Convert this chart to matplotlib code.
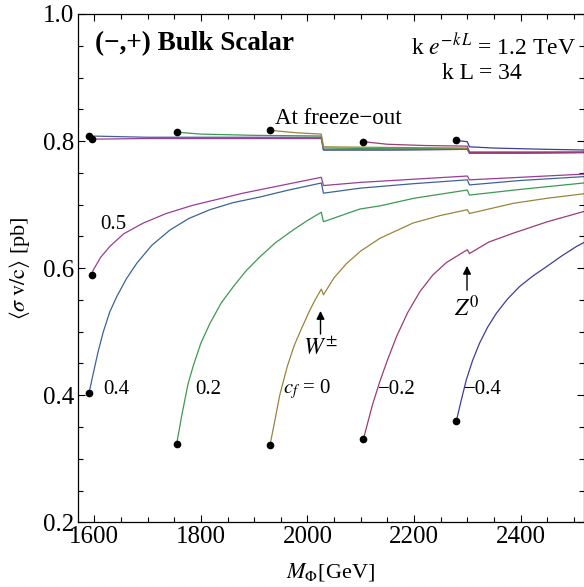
import colorsys
import matplotlib
matplotlib.use('Agg')
import matplotlib.pyplot as plt

plt.rcParams['font.family'] = ['Liberation Serif', 'DejaVu Serif']
plt.rcParams['mathtext.fontset'] = 'stix'

# c_f values and Mathematica-style hues
cf_labels = ['0.5', '0.4', '0.2', r'$c_f$ = 0', '\u22120.2', '\u22120.4']
cf_hues = [0.84, 0.6, 0.37, 0.13, 0.9, 0.67]

# lower branches (thermal average vs mass)
lo_x = [
    [1595, 1598, 1612, 1629, 1655, 1692, 1735, 1785, 1879, 1973, 2026, 2030, 2100, 2200, 2300, 2304, 2400, 2518],
    [1590, 1598, 1607, 1617, 1629, 1642, 1660, 1680, 1708, 1742, 1777, 1817, 1860, 1911, 1965, 2026, 2030, 2100, 2200, 2300, 2304, 2400, 2518],
    [1754.5, 1765, 1776, 1786, 1800, 1817, 1838, 1861, 1885, 1911, 1940, 1973, 2000, 2026, 2030, 2098, 2136, 2200, 2300, 2304, 2400, 2518],
    [1929.5, 1936, 1948, 1962, 1975, 1990, 2004, 2015, 2026, 2030, 2050, 2073, 2100, 2136, 2198, 2250, 2300, 2304, 2386, 2450, 2518],
    [2105, 2111, 2122, 2136, 2150, 2167, 2188, 2211, 2235, 2261, 2300, 2304, 2340, 2386, 2450, 2518],
    [2279.5, 2288, 2298, 2310, 2323, 2338, 2354.5, 2375, 2398, 2422, 2448, 2475, 2504.5, 2518],
]
lo_y = [
    [0.589, 0.597, 0.617, 0.634, 0.654, 0.671, 0.686, 0.699, 0.718, 0.734, 0.743, 0.730, 0.735, 0.740, 0.745, 0.739, 0.743, 0.748],
    [0.403, 0.434, 0.468, 0.500, 0.531, 0.555, 0.583, 0.608, 0.636, 0.660, 0.678, 0.692, 0.703, 0.712, 0.723, 0.734, 0.718, 0.726, 0.733, 0.739, 0.731, 0.738, 0.744],
    [0.323, 0.372, 0.418, 0.447, 0.482, 0.513, 0.545, 0.571, 0.596, 0.618, 0.640, 0.660, 0.675, 0.688, 0.673, 0.693, 0.698, 0.710, 0.723, 0.715, 0.724, 0.734],
    [0.321, 0.348, 0.400, 0.445, 0.478, 0.507, 0.533, 0.551, 0.567, 0.558, 0.585, 0.607, 0.627, 0.647, 0.671, 0.683, 0.692, 0.686, 0.702, 0.710, 0.717],
    [0.331, 0.350, 0.385, 0.422, 0.455, 0.492, 0.530, 0.563, 0.589, 0.609, 0.629, 0.623, 0.641, 0.655, 0.673, 0.689],
    [0.360, 0.390, 0.424, 0.455, 0.482, 0.507, 0.529, 0.551, 0.571, 0.587, 0.602, 0.618, 0.634, 0.640],
]

# upper branches (at freeze-out)
up_x = [
    [1595, 1700, 1850, 2026, 2030, 2150, 2300, 2304, 2400, 2518],
    [1590, 1700, 1850, 2026, 2030, 2150, 2300, 2304, 2400, 2518],
    [1754.5, 1800, 1900, 2026, 2030, 2150, 2300, 2304, 2400, 2518],
    [1929.5, 1980, 2026, 2030, 2150, 2300, 2304, 2400, 2518],
    [2105, 2150, 2220, 2300, 2304, 2400, 2518],
    [2279.5, 2290, 2300, 2304, 2350, 2450, 2518],
]
up_y = [
    [0.803, 0.804, 0.804, 0.804, 0.786, 0.786, 0.787, 0.781, 0.781, 0.782],
    [0.808, 0.806, 0.806, 0.806, 0.786, 0.786, 0.787, 0.781, 0.781, 0.782],
    [0.814, 0.811, 0.809, 0.808, 0.789, 0.788, 0.788, 0.782, 0.782, 0.783],
    [0.817, 0.813, 0.811, 0.791, 0.790, 0.789, 0.783, 0.783, 0.783],
    [0.799, 0.795, 0.793, 0.792, 0.782, 0.782, 0.782],
    [0.801, 0.800, 0.799, 0.791, 0.789, 0.787, 0.786],
]

# curve label positions
lab_x = [1635, 1641, 1814, 1999, 2167, 2329]
lab_y = [0.668, 0.409, 0.409, 0.409, 0.409, 0.409]

fig = plt.figure(figsize=(5.84, 5.87), dpi=100)
ax = fig.add_axes([78.3 / 584, 64.7 / 587, 505.2 / 584, 508.3 / 587])

for i in range(len(cf_hues)):
    col = colorsys.hsv_to_rgb(cf_hues[i], 0.6, 0.6)
    ax.plot(lo_x[i], lo_y[i], color=col, lw=0.9)
    ax.plot(up_x[i], up_y[i], color=col, lw=0.9)
    ax.plot([lo_x[i][0], up_x[i][0]], [lo_y[i][0], up_y[i][0]], 'o',
            color='black', ms=4.5, ls='none', zorder=5)
    ax.text(lab_x[i], lab_y[i], cf_labels[i], fontsize=15, ha='center', va='center')

ax.text(1601.5, 0.954, '(\u2212,+) Bulk Scalar', fontsize=19.5, fontweight='bold',
        ha='left', va='center')
ax.text(2349, 0.948, r'k $e^{-k\,L}$ = 1.2 TeV', fontsize=17, ha='center', va='center')
ax.text(2327, 0.907, 'k L = 34', fontsize=17, ha='center', va='center')
ax.text(2058, 0.836, 'At freeze\u2212out', fontsize=16.5, ha='center', va='center')

# W and Z thresholds
arrow = dict(arrowstyle='-|>', color='black', lw=1.0, mutation_scale=12)
ax.annotate('', xy=(2024.5, 0.537), xytext=(2024.5, 0.492), arrowprops=arrow)
ax.text(2024.5, 0.474, r'$W^{\pm}$', fontsize=17, ha='center', va='center')
ax.annotate('', xy=(2299.4, 0.608), xytext=(2299.4, 0.561), arrowprops=arrow)
ax.text(2299.4, 0.537, r'$Z^{0}$', fontsize=17, ha='center', va='center')

ax.set_xlim(1570, 2518)
ax.set_ylim(0.2, 1.0)
ax.set_xticks([1600, 1800, 2000, 2200, 2400])
ax.set_xticks(range(1600, 2518, 50), minor=True)
ax.set_yticks([0.2, 0.4, 0.6, 0.8, 1.0])
ax.set_yticklabels(['0.2', '0.4', '0.6', '0.8', '1.0'])
ax.set_yticks([0.25, 0.3, 0.35, 0.45, 0.5, 0.55, 0.65, 0.7, 0.75, 0.85, 0.9, 0.95], minor=True)
ax.tick_params(which='both', direction='in', top=True, right=True, labelsize=18, width=0.8)
ax.tick_params(which='major', length=5, pad=3)
ax.tick_params(which='minor', length=3.5)
for s in ax.spines.values():
    s.set_linewidth(0.9)

ax.set_xlabel(r'$M_{\Phi}$[GeV]', fontsize=16, labelpad=9)
ax.set_ylabel(r'$\langle\sigma\;\mathrm{v/c}\rangle$ [pb]', fontsize=16, labelpad=8)

fig.savefig('out.png', dpi=100)
